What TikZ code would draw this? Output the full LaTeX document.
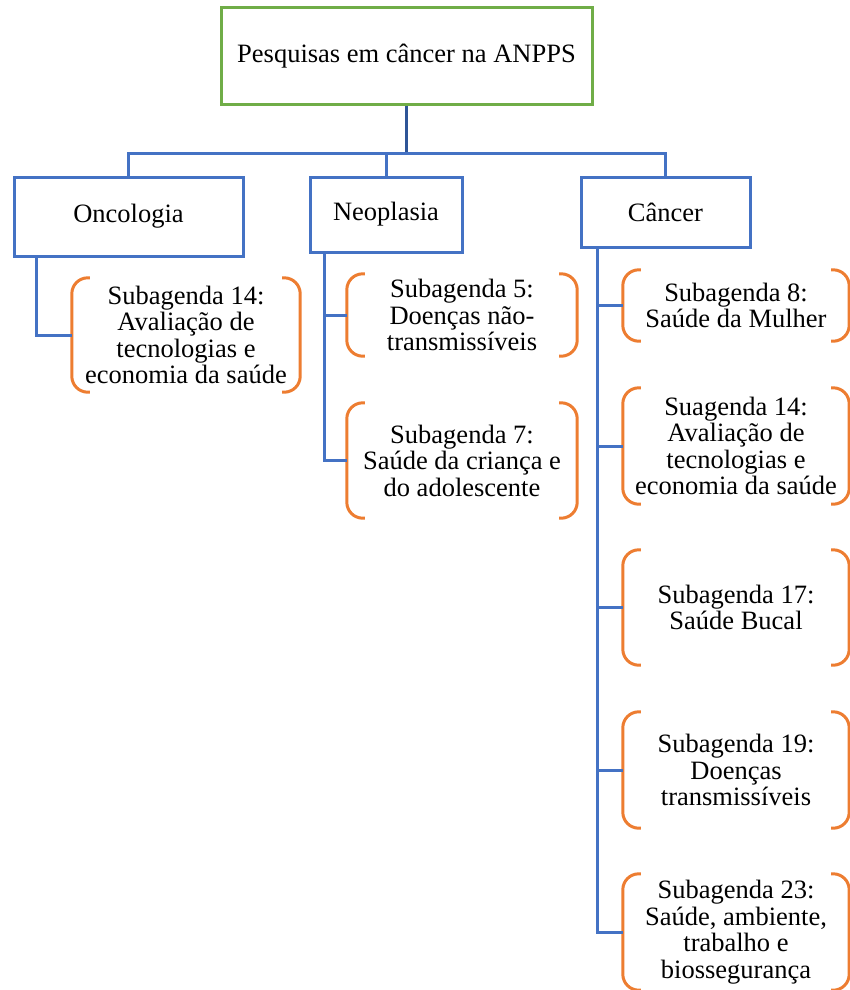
\documentclass[tikz,border=0pt]{standalone}
\usepackage{fontspec}
\setmainfont{Liberation Serif}
\usetikzlibrary{calc}
\definecolor{boxblue}{HTML}{4472C4}
\definecolor{stemblue}{HTML}{2F5597}
\definecolor{topgreen}{HTML}{70AD47}
\definecolor{brkorange}{HTML}{ED7D31}
\tikzset{
  every node/.style={font=\fontsize{26.5}{26.5}\selectfont, align=center, inner sep=0pt},
  head/.style={draw=topgreen, line width=3pt, minimum width=371pt, minimum height=96pt},
  cat/.style={draw=boxblue, line width=3pt},
  sub/.style={minimum width=228pt},
  brk/.style={draw=brkorange, line width=3pt, rounded corners=16pt},
  link/.style={draw=boxblue, line width=3pt}
}

\begin{document}
\begin{tikzpicture}[x=1pt,y=-1pt]
  \useasboundingbox (0,0) rectangle (849,990);
  \node[head] (top) at (406.5,56) {Pesquisas em câncer na ANPPS};
  \node[cat, minimum width=229pt, minimum height=79pt] (onc) at (128.5,216.5) {Oncologia};
  \node[cat, minimum width=152pt, minimum height=75pt] (neo) at (386,214.5) {Neoplasia};
  \node[cat, minimum width=169pt, minimum height=70pt] (can) at (665.5,212) {Câncer};
  \coordinate (bar) at (0,153);

  \node[sub, minimum height=114pt] (o14) at (186,335) {Subagenda 14:\\Avaliação de\\tecnologias e\\economia da saúde};
  \node[sub, minimum width=230pt, minimum height=82pt] (n5) at (462,315) {Subagenda 5:\\Doenças não-\\transmissíveis};
  \node[sub, minimum width=230pt, minimum height=115pt] (n7) at (462,460.5) {Subagenda 7:\\Saúde da criança e\\do adolescente};
  \node[sub, minimum width=226pt, minimum height=71pt] (c8) at (736,305.5) {Subagenda 8:\\Saúde da Mulher};
  \node[sub, minimum width=226pt, minimum height=116pt] (c14) at (736,446) {Suagenda 14:\\Avaliação de\\tecnologias e\\economia da saúde};
  \node[sub, minimum width=226pt, minimum height=115pt] (c17) at (736,607.5) {Subagenda 17:\\Saúde Bucal};
  \node[sub, minimum width=226pt, minimum height=116pt] (c19) at (736,770) {Subagenda 19:\\Doenças\\transmissíveis};
  \node[sub, minimum width=226pt, minimum height=116pt] (c23) at (736,932) {Subagenda 23:\\Saúde, ambiente,\\trabalho e\\biossegurança};

  \foreach \n in {o14,n5,n7,c8,c14,c17,c19,c23}{
    \draw[brk] ([xshift=18pt]\n.north west) -- (\n.north west) -- (\n.south west) -- ([xshift=18pt]\n.south west);
    \draw[brk] ([xshift=-18pt]\n.north east) -- (\n.north east) -- (\n.south east) -- ([xshift=-18pt]\n.south east);
  }

  \draw[link, draw=stemblue] (top.south) -- (top.south |- bar);
  \draw[link] (onc.north) -- (onc.north |- bar) -- (can.north |- bar) -- (can.north);
  \draw[link] (neo.north) -- (neo.north |- bar);
  \draw[link] ([xshift=24pt]onc.south west) |- (o14.west);
  \draw[link] ([xshift=16pt]neo.south west) |- (n7.west);
  \draw[link] (n5.west) -| ([xshift=16pt]neo.south west);
  \draw[link] ([xshift=18pt]can.south west) |- (c23.west);
  \foreach \n in {c8,c14,c17,c19}
    \draw[link] (\n.west) -| ([xshift=18pt]can.south west);
\end{tikzpicture}
\end{document}
